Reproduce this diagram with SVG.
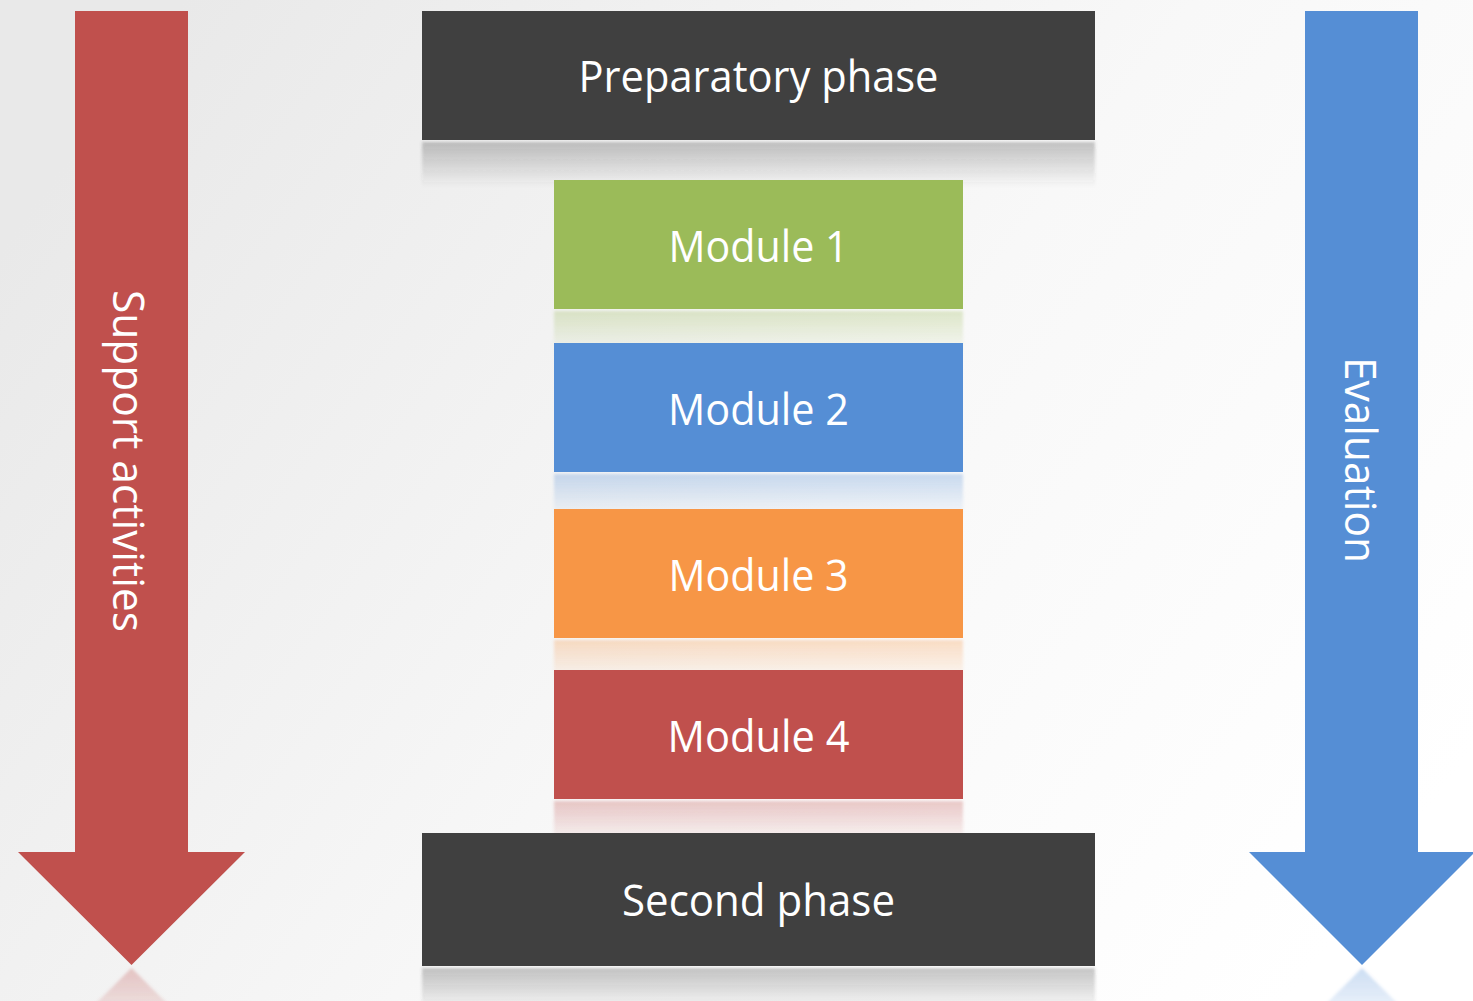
<svg xmlns="http://www.w3.org/2000/svg" width="1473" height="1001" viewBox="0 0 1473 1001">
<defs>
<linearGradient id="bg" x1="0" y1="0.25" x2="1" y2="0.75">
<stop offset="0" stop-color="#e9e9e9"/>
<stop offset="0.55" stop-color="#f8f8f8"/>
<stop offset="1" stop-color="#ffffff"/>
</linearGradient>
<linearGradient id="fade" x1="0" y1="0" x2="0" y2="1">
<stop offset="0" stop-color="#fff" stop-opacity="0.3"/>
<stop offset="1" stop-color="#fff" stop-opacity="0"/>
</linearGradient>
<linearGradient id="rDark" x1="0" y1="0" x2="0" y2="1">
<stop offset="0" stop-color="#404040" stop-opacity="0.3"/>
<stop offset="1" stop-color="#404040" stop-opacity="0"/>
</linearGradient>
<linearGradient id="rGreen" x1="0" y1="0" x2="0" y2="1">
<stop offset="0" stop-color="#9bbb59" stop-opacity="0.3"/>
<stop offset="1" stop-color="#9bbb59" stop-opacity="0"/>
</linearGradient>
<linearGradient id="rBlue" x1="0" y1="0" x2="0" y2="1">
<stop offset="0" stop-color="#558ed5" stop-opacity="0.3"/>
<stop offset="1" stop-color="#558ed5" stop-opacity="0"/>
</linearGradient>
<linearGradient id="rOrange" x1="0" y1="0" x2="0" y2="1">
<stop offset="0" stop-color="#f79646" stop-opacity="0.3"/>
<stop offset="1" stop-color="#f79646" stop-opacity="0"/>
</linearGradient>
<linearGradient id="rRed" x1="0" y1="0" x2="0" y2="1">
<stop offset="0" stop-color="#c0504d" stop-opacity="0.3"/>
<stop offset="1" stop-color="#c0504d" stop-opacity="0"/>
</linearGradient>
<filter id="soft" x="-5%" y="-20%" width="110%" height="140%">
<feGaussianBlur stdDeviation="1.5"/>
</filter>
<style>
.lbl{font-family:"Open Sans","Noto Sans","Liberation Sans",sans-serif;font-size:44px;fill:#ffffff;text-anchor:middle}
.dark{fill:#404040}
.green{fill:#9bbb59}
.blue{fill:#558ed5}
.orange{fill:#f79646}
.red{fill:#c0504d}
</style>
</defs>
<rect x="0" y="0" width="1473" height="1001" fill="url(#bg)"/>

<g id="reflections" filter="url(#soft)">
<rect x="422" y="142" width="673" height="45" fill="url(#rDark)"/>
<rect x="554" y="311" width="409" height="45" fill="url(#rGreen)"/>
<rect x="554" y="474" width="409" height="45" fill="url(#rBlue)"/>
<rect x="554" y="640" width="409" height="45" fill="url(#rOrange)"/>
<rect x="554" y="801" width="409" height="45" fill="url(#rRed)"/>
<rect x="422" y="968" width="673" height="45" fill="url(#rDark)"/>
<polygon points="131.5,968 200,1036 63,1036" fill="url(#rRed)"/>
<polygon points="1362,968 1430,1036 1294,1036" fill="url(#rBlue)"/>
</g>

<g id="support-arrow">
<polygon class="red" points="75,11 188,11 188,852 245,852 131.5,965 18,852 75,852"/>
<text class="lbl" transform="translate(113,461) rotate(90)" x="0" y="0" textLength="342" lengthAdjust="spacingAndGlyphs">Support activities</text>
</g>

<g id="evaluation-arrow">
<polygon class="blue" points="1305,11 1418,11 1418,852 1475,852 1362,965 1249,852 1305,852"/>
<text class="lbl" transform="translate(1345,460) rotate(90)" x="0" y="0" textLength="206" lengthAdjust="spacingAndGlyphs">Evaluation</text>
</g>

<g id="preparatory-phase">
<rect class="dark" x="422" y="11" width="673" height="129"/>
<text class="lbl" x="758.5" y="92" textLength="360" lengthAdjust="spacingAndGlyphs">Preparatory phase</text>
</g>

<g id="module-1">
<rect class="green" x="554" y="180" width="409" height="129"/>
<text class="lbl" x="758.5" y="262" textLength="180" lengthAdjust="spacingAndGlyphs">Module 1</text>
</g>

<g id="module-2">
<rect class="blue" x="554" y="343" width="409" height="129"/>
<text class="lbl" x="758.5" y="425" textLength="181" lengthAdjust="spacingAndGlyphs">Module 2</text>
</g>

<g id="module-3">
<rect class="orange" x="554" y="509" width="409" height="129"/>
<text class="lbl" x="758.5" y="591" textLength="180" lengthAdjust="spacingAndGlyphs">Module 3</text>
</g>

<g id="module-4">
<rect class="red" x="554" y="670" width="409" height="129"/>
<text class="lbl" x="758.5" y="752" textLength="182" lengthAdjust="spacingAndGlyphs">Module 4</text>
</g>

<g id="second-phase">
<rect class="dark" x="422" y="833" width="673" height="133"/>
<text class="lbl" x="758.5" y="916" textLength="273" lengthAdjust="spacingAndGlyphs">Second phase</text>
</g>

<g id="connectors"></g>
</svg>
